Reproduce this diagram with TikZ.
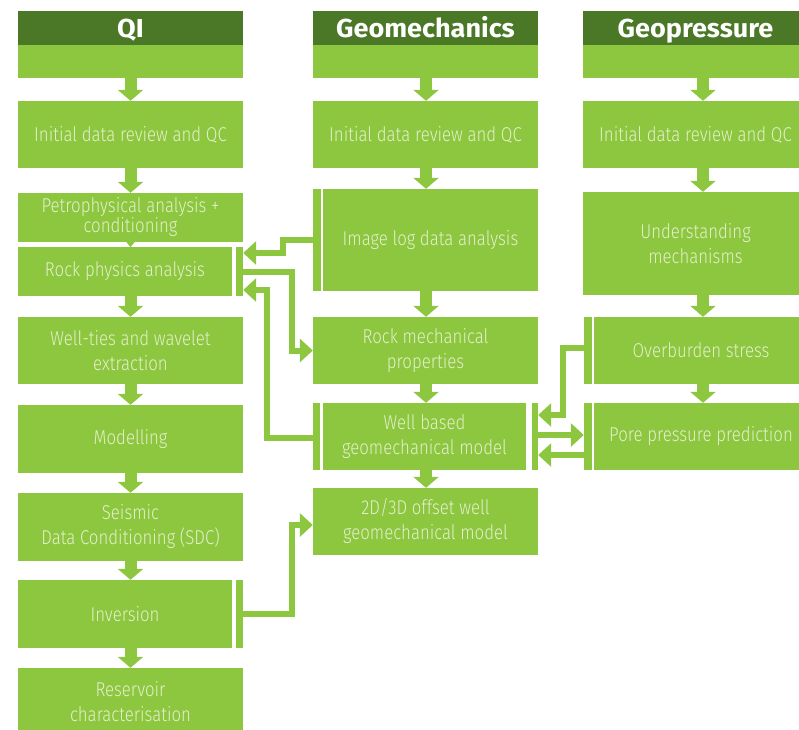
\documentclass[tikz,border=0pt]{standalone}
\usepackage{fontspec}
\setmainfont{Fira Sans}[UprightFont=* Light, BoldFont=* Bold, FakeStretch=0.84]
\newfontfamily\headfont{Fira Sans}[UprightFont=* Bold, FakeStretch=1.04]
\usepackage{xcolor}
\usepackage{tikz}
\usetikzlibrary{positioning}
\usetikzlibrary{arrows.meta}
\usetikzlibrary{calc}

\definecolor{leaf}{HTML}{8DC63F}
\definecolor{moss}{HTML}{4A7826}
\definecolor{pale}{HTML}{E3F0CC}

\begin{document}
\begin{tikzpicture}[x=1pt, y=-1pt,
		box/.style={fill=leaf, text=pale, minimum width=225pt, inner sep=0pt, align=center,
				font=\fontsize{20}{25}\selectfont},
		head/.style={fill=moss, text=white, minimum width=225pt, text height=26pt, text depth=8pt, inner sep=0pt,
				font=\headfont\fontsize{26}{28}\selectfont},
		bar/.style={fill=leaf, inner sep=0pt},
		down/.style={leaf, line width=12pt, -{Triangle[length=11pt, width=25pt]}},
		link/.style={leaf, line width=6pt, -{Triangle[length=13pt, width=23pt]}}]
		\useasboundingbox (0,0) rectangle (799,729);

		% Column axes for the down arrows
		\coordinate (qiaxis) at (130.5,0);
		\coordinate (gmaxis) at (426,0);
		\coordinate (gpaxis) at (703,0);

		% QI column
		\node[head] (qih) at (130.5,28) {QI};
		\node[box, minimum height=33pt] (qit) at (130.5,61.5) {};
		\node[box, minimum height=67pt] (qi1) at (130.5,134.5) {Initial data review and QC};
		\node[box, minimum height=49pt, font=\fontsize{20}{20}\selectfont] (qi2) at (130.5,217.5) {Petrophysical analysis +\\conditioning};
		\node[box, minimum width=214pt, minimum height=49pt] (qi3) at (125,271.5) {Rock physics analysis};
		\node[bar, minimum width=7pt, minimum height=49pt] (qi3bar) at (239.5,271.5) {};
		\node[box, minimum height=67pt] (qi4) at (130.5,350.5) {Well-ties and wavelet\\extraction};
		\node[box, minimum height=68pt] (qi5) at (130.5,439) {Modelling};
		\node[box, minimum height=68pt] (qi6) at (130.5,527) {Seismic\\Data Conditioning (SDC)};
		\node[box, minimum width=214pt, minimum height=68pt] (qi7) at (125,614) {Inversion};
		\node[bar, minimum width=7pt, minimum height=68pt] (qi7bar) at (239.5,614) {};
		\node[box, minimum height=68pt] (qi8) at (130.5,702) {Reservoir\\characterisation};

		% Geomechanics column
		\node[head] (gmh) at (425.5,28) {Geomechanics};
		\node[box, minimum height=33pt] (gmt) at (425.5,61.5) {};
		\node[box, minimum height=67pt] (gm1) at (425.5,134.5) {Initial data review and QC};
		\node[bar, minimum width=8pt, minimum height=102pt] (gm2bar) at (317,240) {};
		\node[box, minimum width=215pt, minimum height=102pt] (gm2) at (430.5,240) {Image log data analysis};
		\node[box, minimum height=67pt] (gm3) at (425.5,350.5) {Rock mechanical\\properties};
		\node[bar, minimum width=7pt, minimum height=67pt] (gm4west) at (316.5,436.5) {};
		\node[box, minimum width=203pt, minimum height=67pt] (gm4) at (424.5,436.5) {Well based\\geomechanical model};
		\node[bar, minimum width=6pt, minimum height=67pt] (gm4east) at (535,436.5) {};
		\node[box, minimum height=67pt] (gm5) at (425.5,521.5) {2D/3D offset well\\geomechanical model};

		% Geopressure column
		\node[head] (gph) at (695.5,28) {Geopressure};
		\node[box, minimum height=33pt] (gpt) at (695.5,61.5) {};
		\node[box, minimum height=67pt] (gp1) at (695.5,134.5) {Initial data review and QC};
		\node[box, minimum height=103pt] (gp2) at (695.5,243.5) {Understanding\\mechanisms};
		\node[bar, minimum width=8pt, minimum height=67pt] (gp3bar) at (588,350.5) {};
		\node[box, minimum width=214pt, minimum height=67pt] (gp3) at (701,350.5) {Overburden stress};
		\node[bar, minimum width=8pt, minimum height=67pt] (gp4bar) at (588,436.5) {};
		\node[box, minimum width=214pt, minimum height=67pt] (gp4) at (701,436.5) {Pore pressure prediction};

		% Down arrows
		\foreach \a/\b in {qit/qi1, qi1/qi2, qi3/qi4, qi4/qi5, qi5/qi6, qi6/qi7, qi7/qi8}
		\draw[down] (qiaxis |- \a.south) -- (qiaxis |- \b.north);
		\foreach \a/\b in {gmt/gm1, gm1/gm2, gm2/gm3, gm3/gm4, gm4/gm5}
		\draw[down] (gmaxis |- \a.south) -- (gmaxis |- \b.north);
		\foreach \a/\b in {gpt/gp1, gp1/gp2, gp2/gp3, gp3/gp4}
		\draw[down] (gpaxis |- \a.south) -- (gpaxis |- \b.north);
		\fill[leaf] ([xshift=-4pt]qiaxis |- qi2.south) -- ([xshift=4pt]qiaxis |- qi2.south)
		-- ([yshift=-5pt]qiaxis |- qi2.south) -- cycle;

		% Links between the columns
		\draw[link] (gm2bar.west) -- ++(-30,0) |- ([yshift=18.5pt]qi3bar.east);
		\draw[link] (qi3bar.east) -- ++(49,0) |- (gm3.west);
		\draw[link] ([yshift=-1.5pt]gm4west.west) -- ++(-46,0) |- ([yshift=-18.5pt]qi3bar.east);
		\draw[link] (qi7bar.east) -- ++(49,0) |- ([yshift=-3.5pt]gm5.west);
		\draw[link] ([yshift=2.5pt]gp3bar.west) -- ++(-21,0) |- ([yshift=21.5pt]gm4east.east);
		\draw[link] ([yshift=1.5pt]gm4east.east) -- ([yshift=1.5pt]gp4bar.west);
		\draw[link] ([yshift=-18.5pt]gp4bar.west) -- ([yshift=-18.5pt]gm4east.east);
	\end{tikzpicture}
\end{document}
